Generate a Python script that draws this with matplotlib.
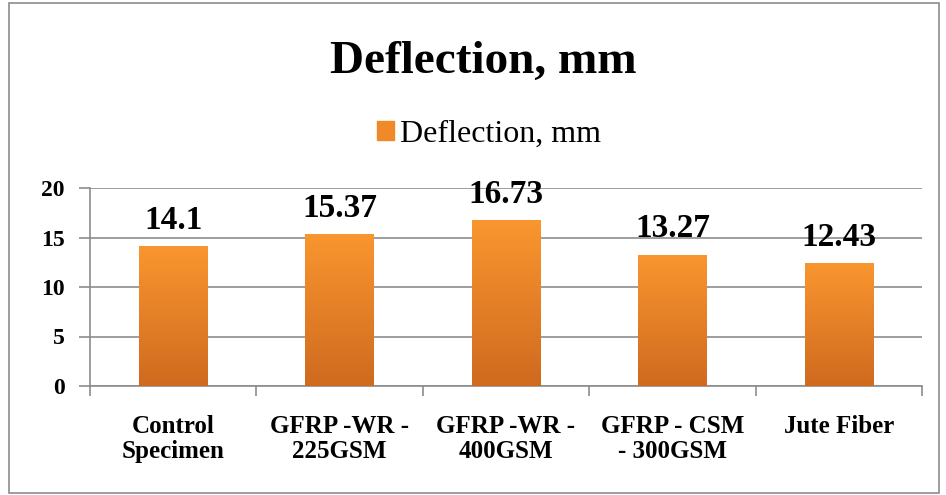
import numpy as np
import matplotlib.pyplot as plt
from matplotlib.patches import Rectangle
from matplotlib.colors import LinearSegmentedColormap

categories = ['Control\nSpecimen', 'GFRP -WR -\n225GSM', 'GFRP -WR -\n400GSM',
              'GFRP - CSM\n- 300GSM', 'Jute Fiber']
deflection = [14.1, 15.37, 16.73, 13.27, 12.43]
value_labels = ['14.1', '15.37', '16.73', '13.27', '12.43']
yticks = [0, 5, 10, 15, 20]

plt.rcParams['font.family'] = ['Liberation Serif', 'DejaVu Serif']

fig = plt.figure(figsize=(9.46, 4.95), dpi=100)
ax = fig.add_axes([90 / 946, 1 - 386 / 495, 832 / 946, 198 / 495])

x = np.arange(len(categories))
bars = ax.bar(x, deflection, width=0.41, color='#F08A28', zorder=3, label='Deflection, mm')

# vertical gradient inside each bar
grad = LinearSegmentedColormap.from_list('og', ['#CF6A1F', '#FA962F'])
g = np.linspace(0, 1, 256).reshape(-1, 1)
for b in bars:
    x0, w, h = b.get_x(), b.get_width(), b.get_height()
    im = ax.imshow(g, cmap=grad, origin='lower', aspect='auto',
                   extent=(x0, x0 + w, 0, h), zorder=3.5)
    im.set_clip_path(b)

for xi, v, s in zip(x, deflection, value_labels):
    ax.text(xi, v + 1.75, s, ha='center', va='baseline', fontsize=24,
            fontweight='bold', zorder=5)

ax.set_xlim(-0.5, len(categories) - 0.5)
ax.set_ylim(0, 20)
ax.set_yticks(yticks)
ax.set_yticklabels([str(t) for t in yticks], fontsize=17, fontweight='bold')
ax.yaxis.grid(True, color='#8c8c8c', linewidth=1.2, zorder=0)
ax.set_axisbelow(True)

ax.set_xticks(np.arange(len(categories) + 1) - 0.5)
ax.set_xticklabels([])
ax.set_xticks(x, minor=True)
ax.set_xticklabels(categories, minor=True, fontsize=18, fontweight='bold',
                   linespacing=1.1)
ax.tick_params(axis='x', which='minor', length=0, pad=21)
ax.tick_params(axis='x', which='major', length=7, color='#8c8c8c', width=1.2)
ax.tick_params(axis='y', length=8, color='#8c8c8c', width=1.2, pad=10)

for sp in ['top', 'right']:
    ax.spines[sp].set_visible(False)
for sp in ['left', 'bottom']:
    ax.spines[sp].set_color('#8c8c8c')
    ax.spines[sp].set_linewidth(1.2)

fig.text(483 / 946, 1 - 62 / 495, 'Deflection, mm', ha='center', va='center',
         fontsize=34, fontweight='bold')

leg = fig.legend(handles=[Rectangle((0, 0), 1, 1, color='#F08A28')],
                 labels=['Deflection, mm'], loc='center',
                 bbox_to_anchor=(489 / 946, 1 - 134 / 495), frameon=False,
                 fontsize=23, handlelength=0.55, handleheight=0.55,
                 handletextpad=0.2)

fig.patches.append(Rectangle((9 / 946, 2 / 495), 930 / 946, 490 / 495,
                             transform=fig.transFigure, fill=False,
                             edgecolor='#8c8c8c', linewidth=1.2))

fig.savefig('out.png', dpi=100)
